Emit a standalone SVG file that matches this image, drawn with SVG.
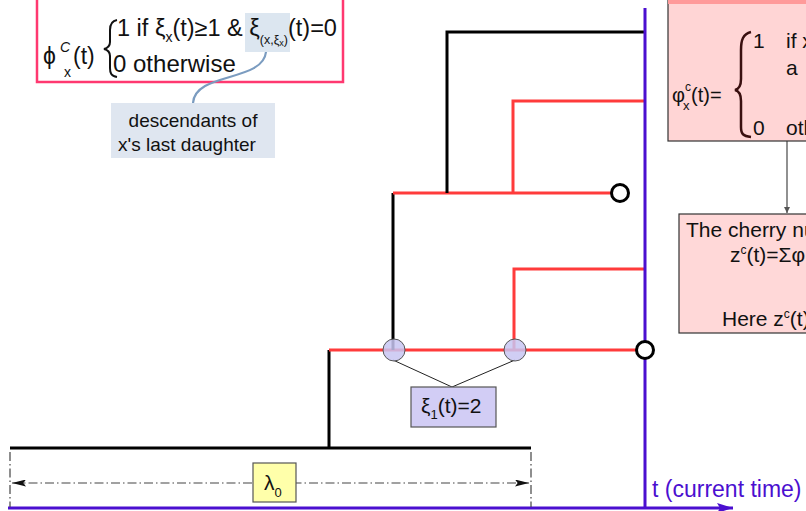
<svg xmlns="http://www.w3.org/2000/svg" width="806" height="511" viewBox="0 0 806 511">
<style>
text{font-family:"Liberation Sans",Arial,sans-serif;fill:#111}
.blk{stroke:#000;stroke-width:3;fill:none}
.red{stroke:#ff3b3b;stroke-width:3;fill:none}
.ax{stroke:#4b0fd0;stroke-width:3;fill:none}
.leaf{fill:#fff;stroke:#000;stroke-width:3}
.hl{fill:#c8c6f2;fill-opacity:0.85;stroke:#555;stroke-width:1}
.thin{stroke:#222;stroke-width:1;fill:none}
.dd{stroke:#444;stroke-width:1.2;fill:none;stroke-dasharray:9,3,1.5,3}
</style>
<defs>
<marker id="ah" viewBox="0 0 10 10" refX="10" refY="5" markerWidth="8" markerHeight="6" orient="auto-start-reverse" markerUnits="userSpaceOnUse"><path d="M0,0 L10,5 L0,10 z" fill="#555"/></marker>
<marker id="ahd" viewBox="0 0 16 8" refX="16" refY="4" markerWidth="16" markerHeight="7" orient="auto-start-reverse" markerUnits="userSpaceOnUse"><path d="M0,0 L16,4 L0,8 L3,4 z" fill="#111"/></marker>
<marker id="ahp" viewBox="0 0 16 10" refX="16" refY="5" markerWidth="16" markerHeight="10" orient="auto" markerUnits="userSpaceOnUse"><path d="M0,0 L16,5 L0,10 L3,5 z" fill="#4b0fd0"/></marker>
</defs>

<g id="box-phi-def">
  <rect x="37" y="-10" width="306" height="92" fill="none" stroke="#ff3870" stroke-width="2.5"/>
  <rect x="245" y="13" width="45" height="39" fill="#dce6f0"/>
  <text x="43" y="64" font-size="23">ϕ</text>
  <text x="60" y="52" font-size="14" font-style="italic">C</text>
  <text x="64" y="77" font-size="14">x</text>
  <text x="73" y="64" font-size="23">(t)</text>
  <path d="M117,20 C111,21 110,25 110,30 L110,42 C110,46 108,48 104,49 C108,50 110,52 110,56 L110,68 C110,73 111,76 117,77" fill="none" stroke="#111" stroke-width="2"/>
  <text x="117" y="36" font-size="23.5">1 if ξ<tspan dy="6" font-size="14">x</tspan><tspan dy="-6">(t)≥1 &amp; ξ</tspan><tspan dy="8" font-size="12.5">(x,ξ</tspan><tspan dy="2" font-size="9">x</tspan><tspan dy="-2" font-size="12.5">)</tspan><tspan dy="-8" font-size="23.5">(t)=0</tspan></text>
  <text x="113" y="72" font-size="24">0 otherwise</text>
</g>

<g id="connectors">
  <polyline class="blk" points="10,448 531,448"/>
  <polyline class="blk" points="329,448 329,350"/>
  <polyline class="red" points="329,350 636,350"/>
  <polyline class="blk" points="393,350 393,193"/>
  <polyline class="red" points="393,193 611,193"/>
  <polyline class="blk" points="447,193 447,32 645,32"/>
  <polyline class="red" points="513,193 513,101 645,101"/>
  <polyline class="red" points="514,350 514,269 645,269"/>
  <line class="ax" x1="645" y1="8" x2="645" y2="508"/>
  <line class="ax" x1="8" y1="508" x2="733" y2="508" marker-end="url(#ahp)"/>
  <line class="dd" x1="10" y1="452" x2="10" y2="507"/>
  <line class="dd" x1="531" y1="452" x2="531" y2="507"/>
  <line class="dd" x1="12" y1="483" x2="529" y2="483" marker-start="url(#ahd)" marker-end="url(#ahd)"/>
  <line class="thin" x1="393" y1="360" x2="452" y2="387"/>
  <line class="thin" x1="515" y1="360" x2="452" y2="387"/>
  <path d="M266,52 C263,82 195,72 193,103" fill="none" stroke="#7b9cc0" stroke-width="2.2"/>
  <line x1="787" y1="141" x2="787" y2="213" stroke="#555" stroke-width="1.3" marker-end="url(#ah)"/>
</g>

<g id="leaf-top"><circle class="leaf" cx="620" cy="193" r="8.5"/></g>
<g id="leaf-bottom"><circle class="leaf" cx="645" cy="350" r="8.5"/></g>
<g id="mark-1"><circle class="hl" cx="394" cy="350" r="11"/></g>
<g id="mark-2"><circle class="hl" cx="515" cy="350" r="11"/></g>

<g id="box-xi">
  <rect x="411" y="387" width="85" height="40" fill="#d2cdf5" stroke="#555" stroke-width="1.2"/>
  <text x="421" y="413" font-size="21">ξ<tspan dy="6" font-size="13">1</tspan><tspan dy="-6">(t)=2</tspan></text>
</g>

<g id="box-lambda">
  <rect x="253" y="463" width="43" height="39" fill="#ffffaa" stroke="#555" stroke-width="1.2"/>
  <text x="264" y="490" font-size="21">λ<tspan dy="7" font-size="13">0</tspan></text>
</g>

<g id="box-descendants">
  <rect x="111" y="103" width="164" height="55" fill="#dfe6f0"/>
  <text x="193" y="127" font-size="19" text-anchor="middle">descendants of</text>
  <text x="187" y="151" font-size="19" text-anchor="middle">x's last daughter</text>
</g>

<g id="box-phi-right">
  <rect x="668" y="-40" width="180" height="181" fill="#ffd5d5" stroke="#333" stroke-width="1.2"/>
  <rect x="668" y="-40" width="180" height="44" fill="#ff9a9a"/>
  <text x="672" y="102" font-size="20">φ</text>
  <text x="685" y="91" font-size="12">c</text>
  <text x="683" y="110" font-size="13">x</text>
  <text x="691" y="102" font-size="20">(t)=</text>
  <path d="M751,32 C743,34 741,40 741,50 L741,79 C741,86 739,89 735,90 C739,91 741,94 741,101 L741,127 C741,134 743,136 751,137" fill="none" stroke="#3a1010" stroke-width="2.5"/>
  <text x="753" y="48" font-size="21">1</text>
  <text x="786" y="48" font-size="21">if x</text>
  <text x="786" y="75" font-size="21">a</text>
  <text x="753" y="135" font-size="21">0</text>
  <text x="786" y="135" font-size="21">otherwise</text>
</g>

<g id="box-cherry">
  <rect x="679" y="214" width="180" height="119" fill="#ffd8d8" stroke="#333" stroke-width="1.2"/>
  <text x="686" y="237" font-size="21">The cherry number</text>
  <text x="730" y="262" font-size="21">z<tspan dy="-8" font-size="12">c</tspan><tspan dy="8">(t)=Σφ</tspan></text>
  <text x="722" y="326" font-size="21">Here z<tspan dy="-8" font-size="12">c</tspan><tspan dy="8">(t)</tspan></text>
</g>

<text x="652" y="497" font-size="23" style="fill:#4b0fd0">t (current time)</text>
</svg>
